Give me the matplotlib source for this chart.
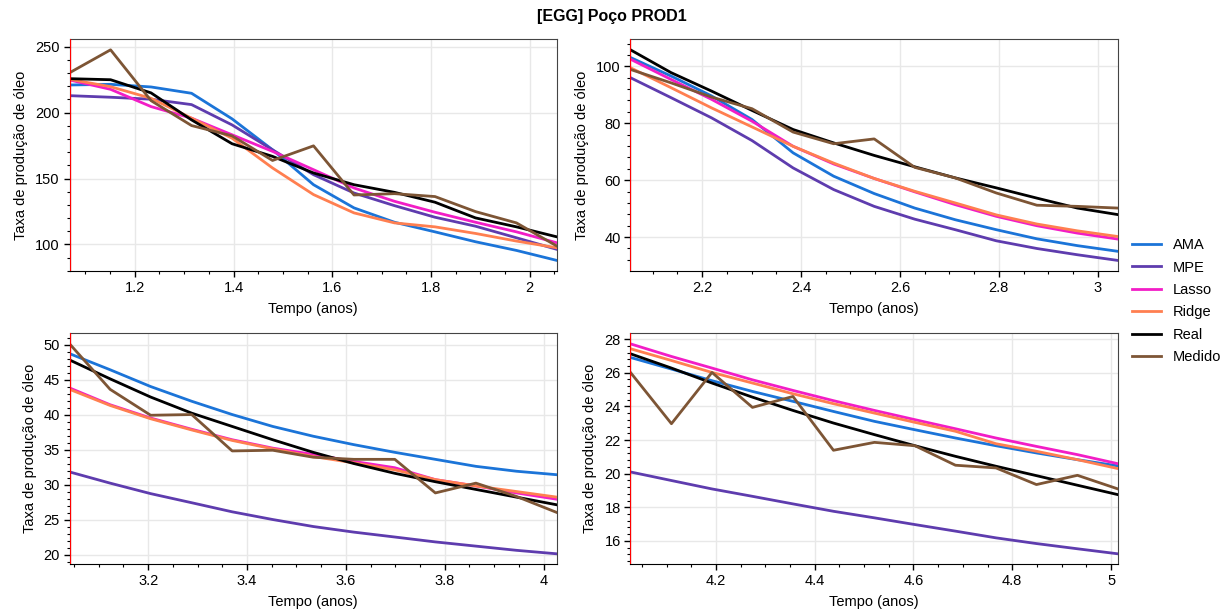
import matplotlib
matplotlib.use("Agg")
import matplotlib.pyplot as plt
from matplotlib.ticker import AutoMinorLocator, FuncFormatter, MultipleLocator

plt.rcParams["font.family"] = ["Liberation Sans", "DejaVu Sans"]

# tempo (anos) de cada janela mensal
tempo = [
    [1.068, 1.151, 1.233, 1.315, 1.397, 1.479, 1.562, 1.644, 1.726, 1.808, 1.890, 1.973, 2.055],
    [2.055, 2.137, 2.219, 2.301, 2.384, 2.466, 2.548, 2.630, 2.712, 2.795, 2.877, 2.959, 3.041],
    [3.041, 3.123, 3.205, 3.288, 3.370, 3.452, 3.534, 3.616, 3.699, 3.781, 3.863, 3.945, 4.027],
    [4.027, 4.110, 4.192, 4.274, 4.356, 4.438, 4.521, 4.603, 4.685, 4.767, 4.849, 4.932, 5.014],
]

ama = [
    [221.0, 221.5, 219.5, 214.7, 195.3, 171.8, 145.3, 127.7, 116.8, 109.5, 102.0, 95.4, 87.8],
    [103.1, 96.6, 89.6, 81.3, 69.6, 61.4, 55.3, 50.2, 46.1, 42.6, 39.4, 37.0, 35.0],
    [48.7, 46.4, 44.0, 41.9, 40.0, 38.3, 36.9, 35.7, 34.6, 33.6, 32.6, 31.9, 31.4],
    [26.91, 26.22, 25.53, 24.89, 24.30, 23.70, 23.11, 22.61, 22.12, 21.66, 21.23, 20.83, 20.46],
]
mpe = [
    [212.9, 211.7, 210.2, 206.1, 190.7, 171.8, 152.9, 139.0, 129.4, 120.6, 113.8, 105.0, 96.2],
    [96.0, 89.0, 81.9, 73.9, 64.3, 56.7, 50.8, 46.3, 42.6, 38.7, 36.0, 33.8, 31.8],
    [31.8, 30.2, 28.7, 27.4, 26.1, 25.0, 24.0, 23.2, 22.5, 21.8, 21.2, 20.6, 20.1],
    [20.10, 19.59, 19.09, 18.65, 18.20, 17.76, 17.37, 16.97, 16.58, 16.18, 15.84, 15.53, 15.23],
]
lasso = [
    [224.8, 217.7, 204.6, 195.8, 183.2, 170.6, 156.7, 142.8, 132.7, 124.4, 116.8, 109.5, 101.2],
    [102.5, 95.4, 88.4, 80.7, 71.9, 65.7, 60.6, 55.9, 51.4, 47.3, 44.0, 41.4, 39.3],
    [43.8, 41.4, 39.5, 37.9, 36.4, 35.2, 34.3, 33.3, 32.4, 30.7, 29.8, 28.8, 27.9],
    [27.72, 26.97, 26.28, 25.58, 24.95, 24.34, 23.76, 23.21, 22.67, 22.12, 21.62, 21.13, 20.59],
]
ridge = [
    [225.3, 219.7, 210.9, 195.8, 180.6, 158.0, 137.8, 123.9, 116.3, 113.3, 108.3, 102.5, 97.4],
    [99.5, 92.5, 85.4, 78.7, 71.9, 66.0, 60.6, 56.1, 52.0, 47.8, 44.6, 42.2, 40.2],
    [43.6, 41.3, 39.4, 37.8, 36.3, 35.1, 34.0, 33.1, 32.1, 30.7, 29.8, 29.0, 28.2],
    [27.43, 26.73, 26.02, 25.39, 24.75, 24.16, 23.60, 23.05, 22.52, 21.78, 21.33, 20.83, 20.30],
]
real = [
    [225.8, 225.0, 215.0, 194.5, 176.4, 166.8, 154.2, 145.3, 139.5, 132.0, 120.1, 113.3, 105.7],
    [105.8, 97.8, 91.3, 84.5, 77.8, 73.1, 68.7, 64.7, 60.8, 57.3, 53.7, 50.2, 47.9],
    [47.8, 45.1, 42.5, 40.2, 38.3, 36.4, 34.6, 33.0, 31.6, 30.4, 29.3, 28.2, 27.1],
    [27.13, 26.28, 25.39, 24.55, 23.76, 23.01, 22.32, 21.66, 21.03, 20.44, 19.88, 19.31, 18.75],
]
medido = [
    [230.3, 247.7, 209.1, 190.2, 182.4, 163.7, 174.8, 137.5, 138.5, 136.3, 124.9, 116.3, 98.7],
    [98.9, 94.2, 89.2, 85.1, 76.9, 72.8, 74.5, 64.5, 60.8, 55.5, 51.2, 50.8, 50.2],
    [50.1, 43.6, 39.9, 40.0, 34.8, 34.9, 33.9, 33.6, 33.6, 28.8, 30.2, 28.3, 26.0],
    [26.02, 22.97, 26.02, 23.94, 24.59, 21.39, 21.86, 21.66, 20.50, 20.34, 19.35, 19.90, 19.09],
]

series = [
    ("AMA", ama, "#1b74d8"),
    ("MPE", mpe, "#5e3cae"),
    ("Lasso", lasso, "#f21dc6"),
    ("Ridge", ridge, "#ff7f50"),
    ("Real", real, "#000000"),
    ("Medido", medido, "#7d5535"),
]

# passo dos ticks principais do eixo y em cada painel
y_step = [50, 20, 5, 2]

fig = plt.figure(figsize=(12.23, 6.11), dpi=100)
positions = [
    [0.0569, 0.5565, 0.3985, 0.3792],
    [0.5155, 0.5565, 0.3986, 0.3792],
    [0.0569, 0.0764, 0.3985, 0.3780],
    [0.5155, 0.0764, 0.3986, 0.3780],
]

fmt = FuncFormatter(lambda v, p: f"{v:g}")

for i, pos in enumerate(positions):
    ax = fig.add_axes(pos)
    t = tempo[i]
    for name, data, color in series:
        ax.plot(t, data[i], color=color, lw=2.0, label=name, zorder=3)
    ax.axvline(t[0], color="red", lw=1.6, zorder=4)
    ax.set_xlim(t[0], t[-1])
    ax.margins(y=0.05)
    ax.xaxis.set_major_locator(MultipleLocator(0.2))
    ax.yaxis.set_major_locator(MultipleLocator(y_step[i]))
    ax.xaxis.set_minor_locator(AutoMinorLocator(4))
    ax.yaxis.set_minor_locator(AutoMinorLocator(5))
    ax.xaxis.set_major_formatter(fmt)
    ax.yaxis.set_major_formatter(fmt)
    ax.grid(True, which="major", color="#e8e8e8", lw=1, zorder=0)
    ax.set_axisbelow(True)
    ax.tick_params(which="major", direction="out", length=4, width=1, labelsize=10.5, pad=3)
    ax.tick_params(which="minor", direction="out", length=2.5, width=0.8)
    for s in ["top", "right"]:
        ax.spines[s].set_color("#444444")
    ax.set_xlabel("Tempo (anos)", fontsize=10.5, labelpad=5)
    ax.set_ylabel("Taxa de produção de óleo", fontsize=10.5, labelpad=5)

handles, labels = fig.axes[0].get_legend_handles_labels()
fig.legend(handles, labels, loc="center left", bbox_to_anchor=(0.926, 0.507),
           frameon=False, fontsize=10.5, handlelength=1.95, handletextpad=0.8,
           labelspacing=0.58, borderpad=0, borderaxespad=0)

fig.suptitle("[EGG] Poço PROD1", fontsize=11.5, fontweight="bold", y=0.985)

fig.savefig("out.png", dpi=100)
